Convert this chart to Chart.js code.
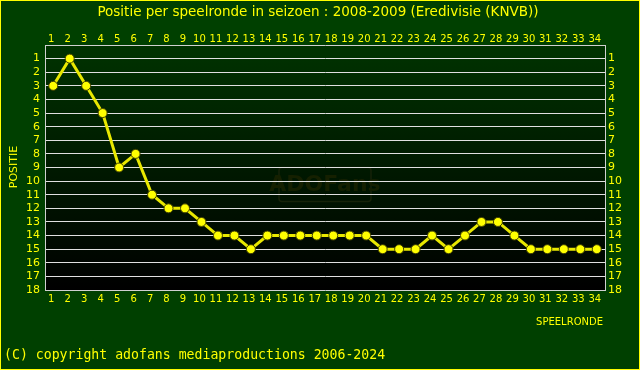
<!DOCTYPE html>
<html>
<head>
<meta charset="utf-8">
<script src="https://cdn.jsdelivr.net/npm/chart.js@4"></script>
<style>
html,body{margin:0;padding:0;background:#004000;}
canvas{display:block;}
</style>
</head>
<body>
<canvas id="c" width="640" height="370"></canvas>
<script>
const titleText = "Positie per speelronde in seizoen : 2008-2009 (Eredivisie (KNVB))";
const xTitle = "SPEELRONDE";
const yTitle = "POSITIE";
const copyright = "(C) copyright adofans mediaproductions 2006-2024";
const rounds = [1,2,3,4,5,6,7,8,9,10,11,12,13,14,15,16,17,18,19,20,21,22,23,24,25,26,27,28,29,30,31,32,33,34];
const positions = [3,1,3,5,9,8,11,12,12,13,14,14,15,14,14,14,14,14,14,14,15,15,15,14,15,14,13,13,14,15,15,15,15,15];
const positionTicks = [1,2,3,4,5,6,7,8,9,10,11,12,13,14,15,16,17,18];

const YEL = '#ffff00';
const setTicks = (vals) => (scale) => { scale.ticks = vals.map(v => ({value: v})); };

const deco = {
  id: 'deco',
  beforeDraw(chart) {
    const ctx = chart.ctx, a = chart.chartArea;
    ctx.save();
    ctx.fillStyle = '#004000';
    ctx.fillRect(0, 0, chart.width, chart.height);
    const g = ctx.createLinearGradient(0, a.top, 0, a.bottom);
    g.addColorStop(0, '#003300');
    g.addColorStop(1, '#000000');
    ctx.fillStyle = g;
    ctx.fillRect(a.left, a.top, a.right - a.left, a.bottom - a.top);
    // watermark
    const cx = (a.left + a.right) / 2, cy = (a.top + a.bottom) / 2 + 17;
    ctx.strokeStyle = '#162208';
    ctx.lineWidth = 1.5;
    ctx.beginPath();
    ctx.roundRect(cx - 46, cy - 17, 92, 34, 3);
    ctx.stroke();
    ctx.fillStyle = '#152000';
    ctx.font = 'bold 22px "DejaVu Sans"';
    ctx.textAlign = 'center';
    ctx.textBaseline = 'middle';
    ctx.fillText('ADOFans', cx, cy + 1);
    ctx.restore();
  },
  afterDraw(chart) {
    const ctx = chart.ctx, a = chart.chartArea;
    ctx.save();
    ctx.fillStyle = YEL;
    ctx.textBaseline = 'middle';
    ctx.textAlign = 'center';
    ctx.font = '13.5px "DejaVu Sans"';
    ctx.fillText(titleText, 318, 12);
    ctx.textAlign = 'right';
    ctx.font = '10px "DejaVu Sans"';
    ctx.fillText(xTitle, a.right - 2, 322);
    ctx.textAlign = 'left';
    ctx.font = '13.2px "DejaVu Sans Mono"';
    ctx.fillText(copyright, 4, 356);
    ctx.translate(14, 167);
    ctx.rotate(-Math.PI / 2);
    ctx.textAlign = 'center';
    ctx.font = '11px "DejaVu Sans"';
    ctx.fillText(yTitle, 0, 0);
    ctx.restore();
    ctx.save();
    ctx.strokeStyle = YEL;
    ctx.lineWidth = 1;
    ctx.strokeRect(0.5, 0.5, chart.width - 1, chart.height - 1);
    ctx.restore();
  }
};

const xCommon = {
  type: 'linear', min: 0.5, max: 34.5,
  afterBuildTicks: setTicks(rounds),
  border: {color: '#d0d0d0', width: 1},
  ticks: {color: YEL, font: {family: 'DejaVu Sans', size: 10}, autoSkip: false, maxRotation: 0, labelOffset: -2},
};
const yCommon = {
  type: 'linear', min: 0, max: 18, reverse: true,
  afterBuildTicks: setTicks(positionTicks),
  border: {color: '#d0d0d0', width: 1},
  ticks: {color: YEL, font: {family: 'DejaVu Sans', size: 11}, autoSkip: false},
};

new Chart(document.getElementById('c'), {
  type: 'line',
  data: {
    datasets: [{
      data: rounds.map((r, i) => ({x: r, y: positions[i]})),
      xAxisID: 'x', yAxisID: 'y',
      borderColor: '#e8e800',
      borderWidth: 3,
      pointRadius: 4.5,
      pointBackgroundColor: YEL,
      pointBorderColor: '#404000',
      pointBorderWidth: 1,
      tension: 0,
    }]
  },
  options: {
    responsive: false,
    animation: false,
    layout: {padding: 0},
    plugins: {legend: {display: false}, title: {display: false}, tooltip: {enabled: false}},
    scales: {
      x: Object.assign({}, xCommon, {
        position: 'bottom',
        grid: {display: false, drawTicks: false},
        ticks: Object.assign({}, xCommon.ticks, {padding: 3}),
        afterFit(s) { s.height = 80; }
      }),
      x2: Object.assign({}, xCommon, {
        position: 'top',
        grid: {display: false, drawTicks: false},
        ticks: Object.assign({}, xCommon.ticks, {padding: 0}),
        afterFit(s) { s.height = 45; }
      }),
      y: Object.assign({}, yCommon, {
        position: 'left',
        grid: {drawTicks: false, color: c => (c.tick && c.tick.value > 0 && c.tick.value < 18) ? '#e0e0e0' : 'rgba(0,0,0,0)', lineWidth: 1},
        ticks: Object.assign({}, yCommon.ticks, {padding: 5}),
        afterFit(s) { s.width = 45; }
      }),
      y2: Object.assign({}, yCommon, {
        position: 'right',
        grid: {display: false, drawTicks: false},
        ticks: Object.assign({}, yCommon.ticks, {padding: 3}),
        afterFit(s) { s.width = 35; }
      })
    }
  },
  plugins: [deco]
});
</script>
</body>
</html>
